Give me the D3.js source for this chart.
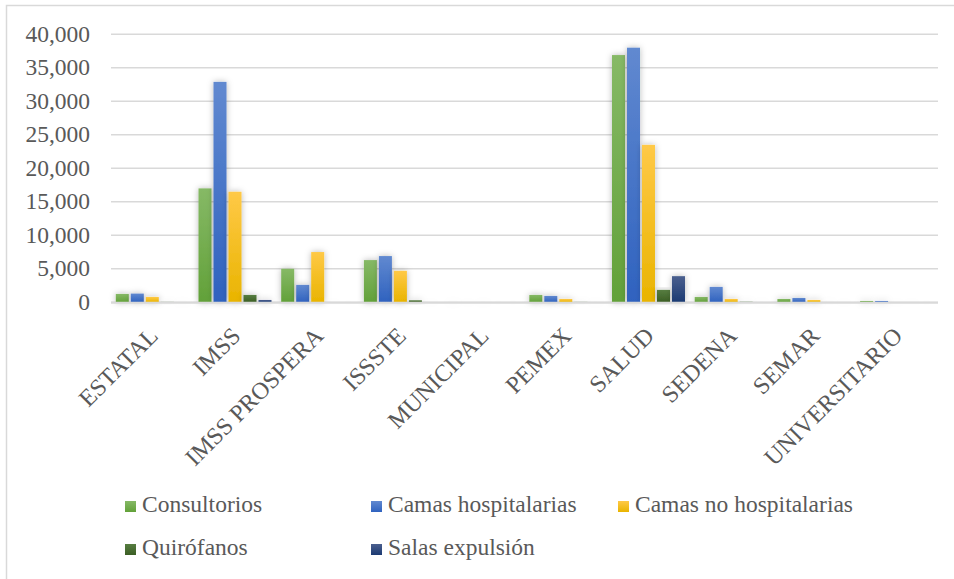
<!DOCTYPE html>
<html>
<head>
<meta charset="utf-8">
<script src="https://cdn.jsdelivr.net/npm/d3@7"></script>
<style>
  body { margin: 0; background: #fff; }
</style>
</head>
<body>
<svg id="chart" width="954" height="579"></svg>
<script>
// categories and series
const categories = ["ESTATAL", "IMSS", "IMSS PROSPERA", "ISSSTE", "MUNICIPAL",
  "PEMEX", "SALUD", "SEDENA", "SEMAR", "UNIVERSITARIO"];
const seriesNames = ["Consultorios", "Camas hospitalarias", "Camas no hospitalarias",
  "Quirófanos", "Salas expulsión"];
const consultorios = [1250, 17000, 5000, 6300, 40, 1100, 36900, 800, 500, 200];
const camasHosp = [1300, 32900, 2600, 6900, 20, 950, 38000, 2300, 650, 200];
const camasNoHosp = [800, 16500, 7500, 4700, 30, 500, 23500, 500, 350, 20];
const quirofanos = [60, 1100, 20, 300, 10, 60, 1850, 80, 40, 20];
const salasExpulsion = [40, 350, 10, 20, 10, 30, 3900, 30, 20, 10];
const yTicks = [0, 5000, 10000, 15000, 20000, 25000, 30000, 35000, 40000];

const seriesValues = [consultorios, camasHosp, camasNoHosp, quirofanos, salasExpulsion];
// [top, bottom] of each bar gradient
const colors = [
  ["#86b966", "#62a139"],
  ["#6189d0", "#2f62bf"],
  ["#ffc947", "#e9b400"],
  ["#577d41", "#3b5e24"],
  ["#4a5f8e", "#1c3a72"]
];
const serif = "'Liberation Serif'";

const svg = d3.select("#chart");
const defs = svg.append("defs");

colors.forEach((c, i) => {
  const g = defs.append("linearGradient")
    .attr("id", "grad" + i)
    .attr("x1", 0).attr("y1", 0).attr("x2", 0).attr("y2", 1);
  g.append("stop").attr("offset", "0%").attr("stop-color", c[0]);
  g.append("stop").attr("offset", "100%").attr("stop-color", c[1]);
});

const shadow = defs.append("filter").attr("id", "shadow")
  .attr("x", "-50%").attr("y", "-20%").attr("width", "200%").attr("height", "140%");
shadow.append("feDropShadow")
  .attr("dx", 0).attr("dy", 0).attr("stdDeviation", 3)
  .attr("flood-color", "#000").attr("flood-opacity", 0.28);

// chart border
svg.append("rect")
  .attr("x", 6.5).attr("y", 5.5)
  .attr("width", 960).attr("height", 600)
  .attr("fill", "none").attr("stroke", "#d9d9d9").attr("stroke-width", 1.5);

const x = d3.scaleBand(categories, [111, 938]);
const x1 = d3.scaleBand(d3.range(seriesNames.length), [4.8, 77.8]).paddingInner(0.133);
const y = d3.scaleLinear([0, 40000], [302.3, 34.3]);

// gridlines
svg.append("g")
  .selectAll("line")
  .data(yTicks)
  .join("line")
  .attr("x1", 111).attr("x2", 938)
  .attr("y1", d => y(d)).attr("y2", d => y(d))
  .attr("stroke", "#d9d9d9").attr("stroke-width", 1.5);

// y tick labels
const fmt = d3.format(",");
svg.append("g")
  .selectAll("text")
  .data(yTicks)
  .join("text")
  .attr("x", 90)
  .attr("y", d => y(d) + 7.5)
  .attr("text-anchor", "end")
  .attr("font-family", serif)
  .attr("font-size", 23.5)
  .attr("fill", "#595959")
  .text(d => fmt(d));

// bars
seriesValues.forEach((vals, s) => {
  svg.append("g")
    .attr("filter", "url(#shadow)")
    .selectAll("rect")
    .data(vals)
    .join("rect")
    .attr("x", (d, i) => x(categories[i]) + x1(s))
    .attr("width", x1.bandwidth())
    .attr("y", d => y(d))
    .attr("height", d => y(0) - y(d))
    .attr("fill", `url(#grad${s})`);
});

// axis baseline
svg.append("line")
  .attr("x1", 111).attr("x2", 938)
  .attr("y1", y(0) + 0.5).attr("y2", y(0) + 0.5)
  .attr("stroke", "#d9d9d9").attr("stroke-width", 2);

// category labels
svg.append("g")
  .selectAll("text")
  .data(categories)
  .join("text")
  .attr("transform", d => `translate(${x(d) + x.bandwidth() / 2 + 7},${y(0) + 35}) rotate(-45)`)
  .attr("text-anchor", "end")
  .attr("font-family", serif)
  .attr("font-size", 24)
  .attr("fill", "#595959")
  .text(d => d);

// legend
const legendPos = [[125, 512], [371, 512], [618, 512], [125, 555], [371, 555]];
const legend = svg.append("g")
  .selectAll("g")
  .data(seriesNames)
  .join("g")
  .attr("transform", (d, i) => `translate(${legendPos[i][0]},${legendPos[i][1]})`);
legend.append("rect")
  .attr("x", 0).attr("y", -11).attr("width", 11).attr("height", 11)
  .attr("fill", (d, i) => `url(#grad${i})`);
legend.append("text")
  .attr("x", 17)
  .attr("y", 0)
  .attr("font-family", serif)
  .attr("font-size", 23.5)
  .attr("fill", "#595959")
  .text(d => d);
</script>
</body>
</html>
